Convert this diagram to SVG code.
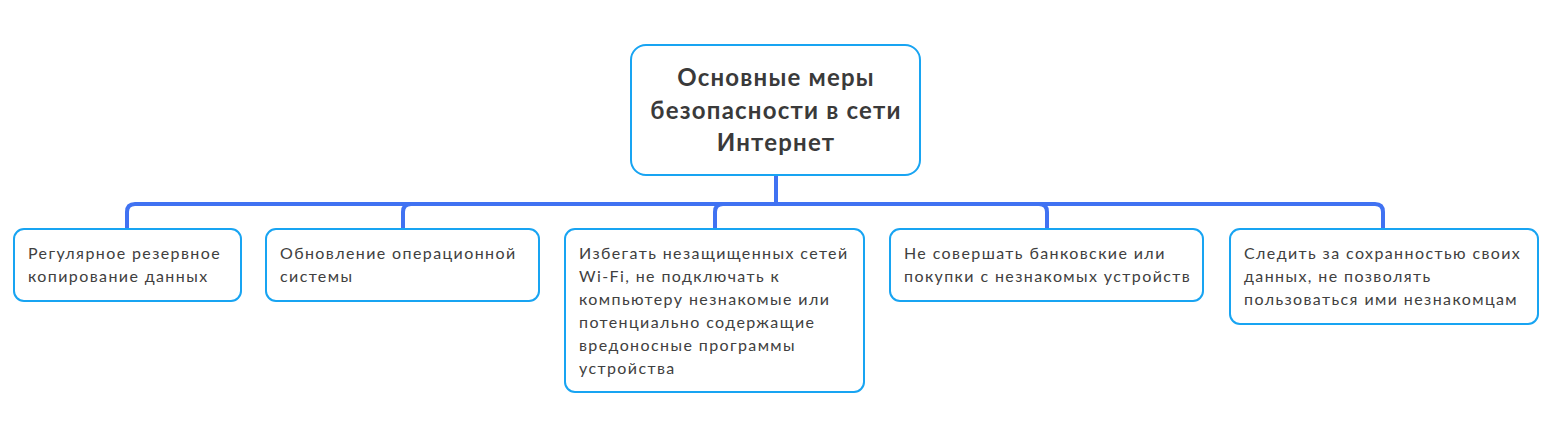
<svg xmlns="http://www.w3.org/2000/svg" width="1563" height="430" viewBox="0 0 1563 430">
<style>
.box{fill:#fff;stroke:#18a4f2;stroke-width:2}
.t{font-family:Lato,"Noto Sans",sans-serif;font-size:16px;letter-spacing:1.4px;fill:#404040}
.rt{font-family:Lato,"Noto Sans",sans-serif;font-size:24px;letter-spacing:1.2px;font-weight:bold;fill:#3a3a3a;text-anchor:middle}
.c{fill:none;stroke:#4072f2;stroke-width:4;stroke-linecap:round;stroke-linejoin:round}
</style>
<rect width="1563" height="430" fill="#fff"/>
<g id="connectors">
<path class="c" d="M776 176 V204"/>
<path class="c" d="M776 204 H135 Q127 204 127 212 V229"/>
<path class="c" d="M776 204 H411 Q403 204 403 212 V229"/>
<path class="c" d="M776 204 H723 Q715 204 715 212 V229"/>
<path class="c" d="M776 204 H1039 Q1047 204 1047 212 V229"/>
<path class="c" d="M776 204 H1375 Q1383 204 1383 212 V229"/>
</g>
<g id="root">
<rect class="box" x="631" y="45" width="289" height="130" rx="15"/>
<text class="rt" x="776" y="86">Основные меры</text>
<text class="rt" x="776" y="119">безопасности в сети</text>
<text class="rt" x="776" y="151">Интернет</text>
</g>
<g id="n1">
<rect class="box" x="14" y="229" width="227" height="72" rx="10"/>
<text class="t" x="28" y="259">Регулярное резервное</text>
<text class="t" x="28" y="282">копирование данных</text>
</g>
<g id="n2">
<rect class="box" x="266" y="229" width="273" height="72" rx="10"/>
<text class="t" x="280" y="259">Обновление операционной</text>
<text class="t" x="280" y="282">системы</text>
</g>
<g id="n3">
<rect class="box" x="565" y="229" width="299" height="163" rx="10"/>
<text class="t" x="579" y="259">Избегать незащищенных сетей</text>
<text class="t" x="579" y="282">Wi-Fi, не подключать к</text>
<text class="t" x="579" y="305">компьютеру незнакомые или</text>
<text class="t" x="579" y="328">потенциально содержащие</text>
<text class="t" x="579" y="351">вредоносные программы</text>
<text class="t" x="579" y="374">устройства</text>
</g>
<g id="n4">
<rect class="box" x="890" y="229" width="313" height="72" rx="10"/>
<text class="t" x="904" y="259">Не совершать банковские или</text>
<text class="t" x="904" y="282">покупки с незнакомых устройств</text>
</g>
<g id="n5">
<rect class="box" x="1230" y="229" width="308" height="95" rx="10"/>
<text class="t" x="1244" y="259">Следить за сохранностью своих</text>
<text class="t" x="1244" y="282">данных, не позволять</text>
<text class="t" x="1244" y="305">пользоваться ими незнакомцам</text>
</g>
</svg>
